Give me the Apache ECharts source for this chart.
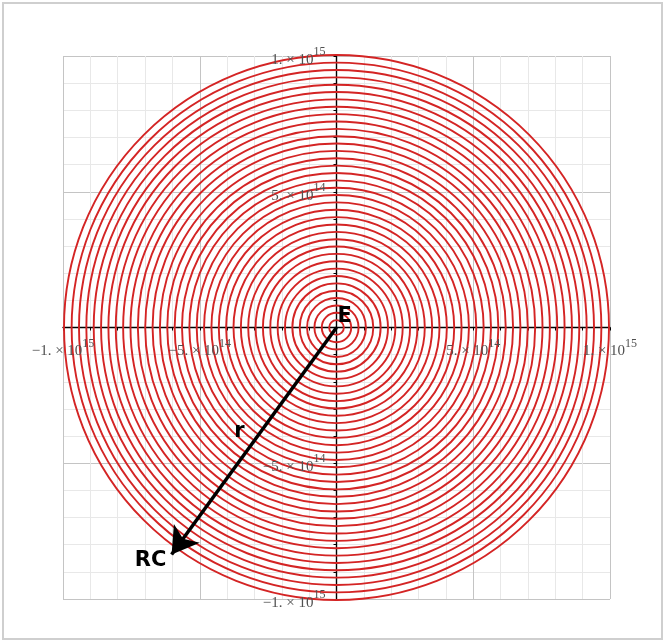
<!DOCTYPE html>
<html>
<head>
<meta charset="utf-8">
<script src="https://cdn.jsdelivr.net/npm/echarts@6/dist/echarts.min.js"></script>
<style>
html,body{margin:0;padding:0;background:#fff;}
#main{width:665px;height:643px;}
</style>
</head>
<body>
<div id="main"></div>
<script>
// ring radii (data units)
var ringRadii = [
  2.7e13, 5.4e13, 8.1e13, 1.08e14, 1.35e14, 1.62e14, 1.89e14, 2.16e14, 2.43e14, 2.7e14,
  2.97e14, 3.24e14, 3.51e14, 3.78e14, 4.05e14, 4.32e14, 4.59e14, 4.86e14, 5.13e14, 5.4e14,
  5.67e14, 5.94e14, 6.21e14, 6.48e14, 6.75e14, 7.02e14, 7.29e14, 7.56e14, 7.83e14, 8.1e14,
  8.37e14, 8.64e14, 8.91e14, 9.18e14, 9.45e14, 9.72e14, 1.0e15
];
// axis range and tick labels
var axisMin = -1e15, axisMax = 1e15, majorStep = 5e14;
var tickValues   = [-1e15, -5e14, 5e14, 1e15];
var tickMantissa = ['\u22121.', '\u22125.', '5.', '1.'];
var tickExponent = ['15', '14', '14', '15'];
// arrow (vector r) from E to RC
var arrowStart = [0, 0];
var arrowEnd = [-6.03e14, -8.36e14];
// annotation labels
var annotations = [
  {name: 'E',  value: [3.0e13, 4.1e13]},
  {name: 'r',  value: [-3.55e14, -3.85e14]},
  {name: 'RC', value: [-6.8e14, -8.58e14]}
];

function tickText(i) {
  return '{b|' + tickMantissa[i] + ' \u00d7 10}{s|' + tickExponent[i] + '}';
}
var richStyle = {
  b: {fontFamily: 'Liberation Serif', fontSize: 15, color: '#505050', lineHeight: 28},
  s: {fontFamily: 'Liberation Serif', fontSize: 12, color: '#505050', lineHeight: 12, verticalAlign: 'top'}
};
var xTickData = tickValues.map(function (v, i) { return {value: [v, 0], text: tickText(i)}; });
var yTickData = tickValues.map(function (v, i) { return {value: [0, v], text: tickText(i)}; });

var chart = echarts.init(document.getElementById('main'));
var axisCommon = {
  type: 'value', min: axisMin, max: axisMax, interval: majorStep,
  axisLine: {onZero: true, lineStyle: {color: '#000', width: 1.4}},
  axisTick: {show: true, length: 3, lineStyle: {color: '#000'}},
  minorTick: {show: true, splitNumber: 5, length: 3, lineStyle: {color: '#000'}},
  axisLabel: {show: false},
  splitLine: {show: true, lineStyle: {color: '#c4c4c4', width: 1}},
  minorSplitLine: {show: true, lineStyle: {color: '#e8e8e8', width: 1}}
};
chart.setOption({
  animation: false,
  backgroundColor: '#fff',
  grid: {left: 63, right: 55, top: 56, bottom: 44},
  graphic: [
    {type: 'rect', shape: {x: 3, y: 3, width: 659, height: 636}, style: {fill: 'none', stroke: '#cfcfcf', lineWidth: 2}, z: -10}
  ],
  xAxis: axisCommon,
  yAxis: axisCommon,
  series: [
    {
      type: 'custom',
      clip: false,
      data: ringRadii.map(function (r) { return [r]; }),
      encode: {x: 0, y: 0},
      renderItem: function (params, api) {
        var r = api.value(0);
        var c = api.coord([0, 0]);
        var s = api.size([r, r]);
        return {
          type: 'circle',
          shape: {cx: c[0], cy: c[1], r: (s[0] + s[1]) / 2},
          style: {fill: 'none', stroke: '#d42424', lineWidth: 1.9}
        };
      },
      z: 3
    },
    {
      type: 'line',
      data: [],
      markLine: {
        silent: true,
        symbol: ['none', 'arrow'],
        symbolSize: [24, 26],
        label: {show: false},
        lineStyle: {color: '#000', width: 3.5, type: 'solid'},
        data: [[{coord: arrowStart}, {coord: arrowEnd}]]
      },
      z: 5
    },
    {
      type: 'scatter',
      symbolSize: 0,
      itemStyle: {opacity: 1},
      data: annotations,
      label: {
        show: true, position: [0, 0], align: 'center', verticalAlign: 'middle', formatter: '{b}',
        fontFamily: 'DejaVu Sans', fontWeight: 'bold', fontSize: 21, color: '#000', opacity: 1
      },
      z: 6
    },
    {
      type: 'scatter',
      symbolSize: 0,
      itemStyle: {opacity: 1},
      data: xTickData,
      label: {
        show: true, position: [0, 0], offset: [0, 24], align: 'center', verticalAlign: 'middle',
        formatter: function (p) { return p.data.text; }, rich: richStyle, opacity: 1
      },
      z: 4
    },
    {
      type: 'scatter',
      symbolSize: 0,
      itemStyle: {opacity: 1},
      data: yTickData,
      label: {
        show: true, position: [0, 0], offset: [-11, 4], align: 'right', verticalAlign: 'middle',
        formatter: function (p) { return p.data.text; }, rich: richStyle, opacity: 1
      },
      z: 4
    }
  ]
});
</script>
</body>
</html>
